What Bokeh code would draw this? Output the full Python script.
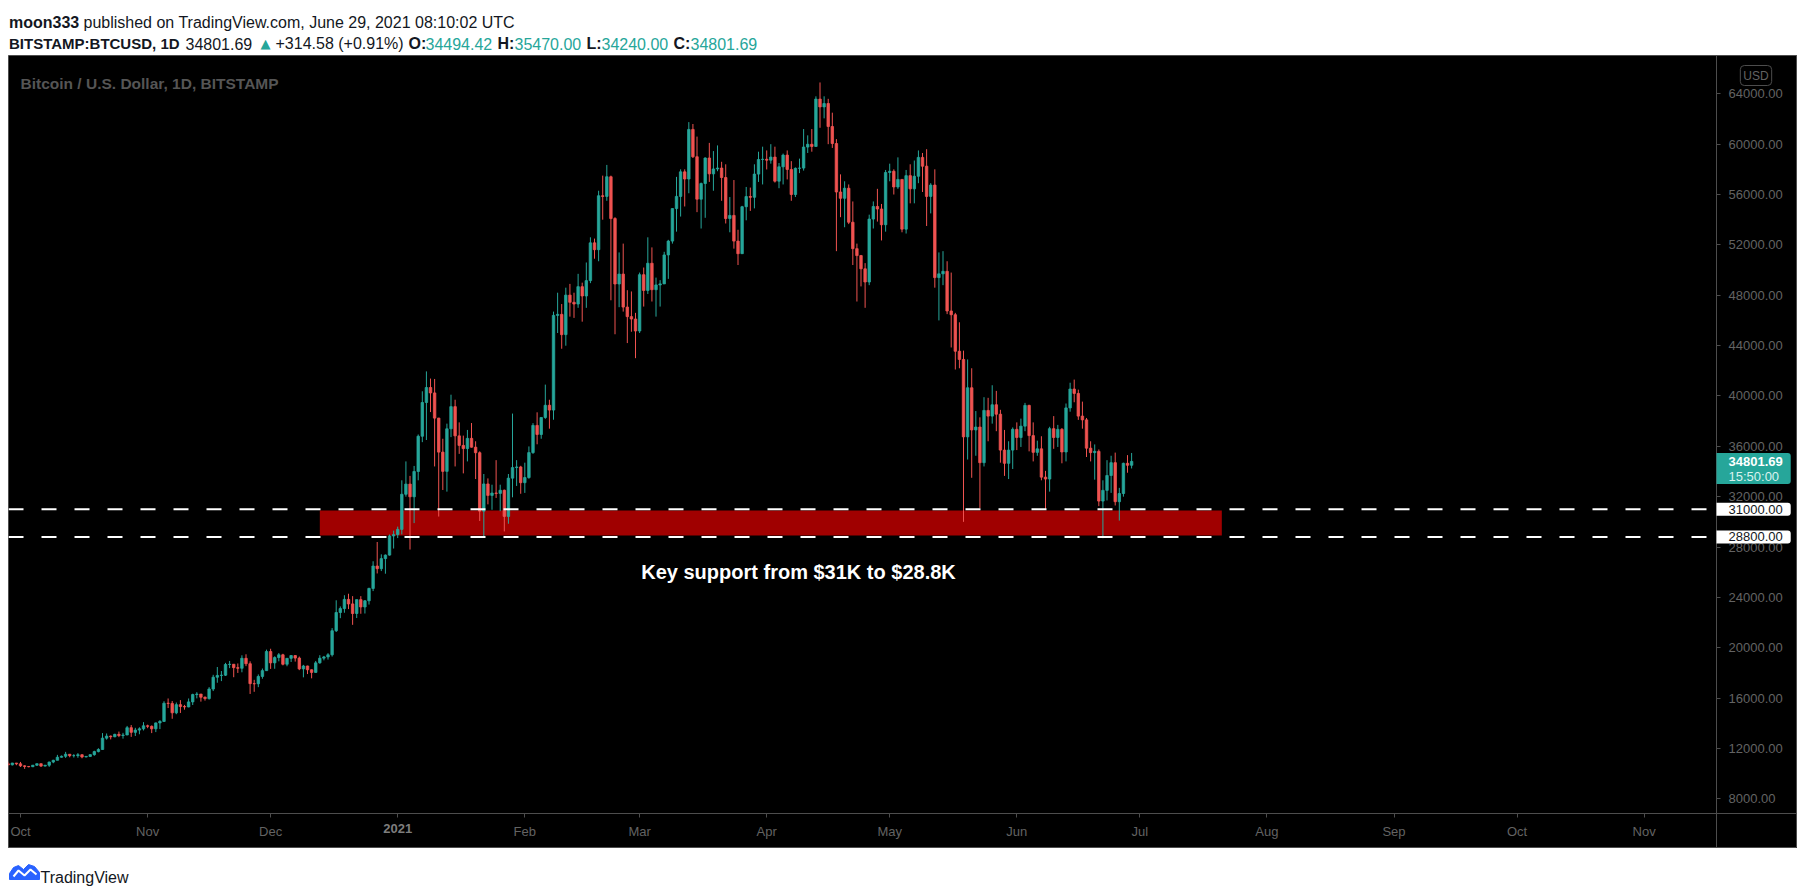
import datetime as dt
from bokeh.plotting import figure
from bokeh.models import (Range1d, LinearAxis, FixedTicker, PrintfTickFormatter,
                          Label, ColumnDataSource)
from bokeh.layouts import column
from bokeh.embed import file_html
from bokeh.resources import INLINE
from bokeh.core.properties import value

# ---------------- data (BITSTAMP:BTCUSD, 1D) ----------------
FIRST_DAY = dt.date(2020, 9, 28)
ORIGIN = dt.date(2020, 10, 1)

opens = [
    10780, 10700, 10840,
    10780, 10620, 10570, 10550, 10670, 10790, 10600, 10670, 10920, 11060, 11300, 11380, 11540, 11430, 11430, 11500,
    11320, 11370, 11510, 11750, 11920, 12820, 12980, 12930, 13120, 13030, 13070, 13650, 13280, 13460, 13560,
    13800, 13760, 13560, 14030, 14150, 15590, 15580, 14830, 15480, 15330, 15300, 15700, 16280, 16320, 16070,
    15960, 16720, 17660, 17800, 17820, 18670, 18690, 18420, 18370, 19160, 18730, 17150, 17140, 17720, 18180,
    19700, 18800, 19220, 19440, 18690, 19160, 19380, 19180, 18320, 18550, 18250, 18040, 18800, 19170, 19270,
    19440, 21350, 22800, 23110, 23840, 23480, 22720, 23820, 23240, 23730, 24710, 26490, 26280, 27080, 27360, 28880,
    28990, 29400, 32190, 33000, 31990, 34000, 36800, 39480, 40670, 40240, 38240, 35540, 34010, 37390, 39150,
    36830, 36070, 35820, 36630, 35930, 35490, 30850, 33010, 32100, 32290, 32260, 32510, 30430, 33470, 34310, 34360,
    33110, 33520, 35500, 37660, 36940, 38290, 39260, 38880, 46400, 46480, 44870, 48010, 47440, 47300,
    48680, 47940, 49160, 52160, 51620, 55900, 55850, 57410, 54090, 48890, 49680, 47060, 46300, 46110,
    45160, 49630, 48380, 50540, 48440, 48820, 48900, 51200, 52300, 54880, 55850, 57800, 57230, 61170, 59000,
    55630, 56870, 58900, 57640, 58030, 58100, 57350, 54090, 54340, 52300, 51300, 55030, 55840, 55780, 57620, 58780,
    58800, 58730, 58970, 57060, 58200, 59130, 57990, 56000, 58080, 58100, 59770, 59990, 59820, 63580, 62960,
    63230, 61400, 60050, 56200, 55700, 56500, 53800, 51700, 51150, 50100, 49050, 54050, 55050, 54850, 53600,
    57750, 57850, 56600, 57200, 53250, 57500, 56450, 57450, 58950, 58250, 55850, 56750, 49400, 49700, 49900,
    46750, 46450, 43550, 42900, 36750, 40650, 37300, 37530, 34700, 38850, 38400, 39300, 38550, 35700, 34650, 35700,
    37350, 36700, 37600, 39250, 36850, 35520, 35800, 33550, 33400, 37400, 36700, 37350, 35550, 39050, 40550,
    40200, 38400, 38100, 35850, 35500, 35600, 31650, 32500, 33680, 34700, 31600, 32250, 34650, 34494.42,
]
highs = [
    10950, 10860, 10850,
    10930, 10660, 10600, 10690, 10800, 10800, 10690, 10950, 11100, 11490, 11440, 11730, 11550, 11550, 11630, 11540,
    11400, 11530, 11820, 12020, 13220, 13190, 13030, 13170, 13340, 13240, 13790, 13860, 13640, 13680, 14090,
    13890, 13830, 14060, 14250, 15750, 15970, 15770, 15650, 15840, 15460, 15970, 16350, 16470, 16330, 16130,
    16870, 17850, 18470, 18150, 18800, 18950, 18700, 18750, 19400, 19480, 18920, 17450, 17880, 18350, 19850,
    19920, 19320, 19580, 19520, 19180, 19420, 19420, 19300, 18640, 18570, 18280, 18950, 19410, 19350, 19570,
    21560, 23770, 23280, 24170, 24290, 24100, 23830, 24100, 23790, 24770, 26870, 28400, 27420, 27410, 28990, 29300,
    29620, 33300, 34800, 33650, 34440, 36940, 40370, 41950, 41380, 41350, 38260, 36600, 37800, 40100, 39700,
    37900, 36850, 37300, 37850, 36400, 35600, 33800, 33450, 32950, 34900, 32950, 32560, 33800, 38600, 34900, 34450,
    34700, 35990, 37840, 38700, 38300, 40900, 39700, 46700, 48200, 47300, 48600, 48900, 48200, 49700,
    49000, 50600, 52600, 52500, 56300, 57500, 58350, 57500, 54200, 51400, 52100, 48400, 48300, 46600,
    49800, 50200, 52600, 51800, 49400, 49200, 51450, 52400, 54900, 57400, 58000, 58000, 61750, 61600, 60600,
    56950, 58950, 60100, 59450, 59900, 58600, 58400, 55800, 57150, 53200, 55100, 56600, 56550, 58400, 59400, 59800,
    59500, 60000, 59800, 58500, 59250, 59500, 58650, 58150, 58850, 61200, 60700, 61200, 63800, 64900, 63800,
    63600, 62500, 60400, 57600, 57050, 56800, 55450, 52100, 51200, 50550, 54400, 55450, 56450, 55250, 57950,
    58450, 58000, 58950, 57200, 57950, 58400, 58700, 59500, 59300, 59600, 56900, 58000, 51400, 51500, 50700,
    49800, 46600, 45850, 43600, 42900, 42200, 38800, 38300, 39900, 39850, 40850, 40400, 38900, 37300, 36400, 37500,
    37900, 38200, 39450, 39300, 37900, 36450, 36800, 34050, 37550, 38400, 37700, 37450, 39400, 41050, 41300,
    40500, 39550, 38250, 36400, 36150, 35750, 33300, 34900, 35250, 35500, 32700, 34700, 35300, 35470,
]
lows = [
    10640, 10650, 10670,
    10530, 10380, 10500, 10520, 10610, 10530, 10570, 10540, 10830, 11060, 11280, 11250, 11300, 11280, 11260, 11220,
    11300, 11330, 11420, 11690, 11900, 12700, 12720, 12890, 12900, 12780, 13060, 12920, 12990, 13130, 13430,
    13610, 13220, 13300, 13540, 14100, 15210, 14360, 14720, 14820, 15080, 15270, 15450, 15980, 15720, 15800,
    15880, 16560, 17220, 17350, 17760, 18380, 17660, 18000, 18050, 18540, 16330, 16500, 16870, 17540, 18170,
    18320, 18330, 18920, 18600, 18530, 18870, 18900, 18220, 17650, 17910, 17570, 18020, 18730, 19000, 19060,
    19300, 21250, 22350, 22780, 23070, 21820, 22360, 22700, 22720, 23430, 24500, 25900, 26090, 25880, 27320, 27880,
    28710, 29000, 32000, 27800, 29900, 33300, 36330, 36500, 38720, 34400, 30420, 32530, 32400, 36730, 34400,
    35400, 33850, 34800, 35900, 33400, 30070, 28850, 31390, 30960, 31900, 30850, 29240, 29850, 31950, 32850, 32230,
    32300, 33420, 35400, 36160, 36600, 38180, 37400, 38110, 45000, 43750, 43990, 46300, 46200, 47000,
    45900, 47000, 48960, 50900, 50700, 54000, 55500, 47600, 44900, 47050, 46700, 44200, 45100, 43000,
    45000, 47100, 48100, 47500, 46300, 47100, 48900, 49300, 52100, 53050, 54250, 55050, 56100, 58900, 54600,
    53300, 54150, 57000, 56300, 57850, 55500, 53700, 53000, 51700, 50400, 51300, 53950, 54700, 54900, 57000, 56800,
    57990, 58450, 56950, 56500, 56800, 57200, 55500, 55800, 57700, 57900, 59300, 59400, 59800, 61300, 62050,
    60000, 59700, 51500, 54200, 53400, 53650, 50400, 47500, 48700, 47000, 48800, 53300, 53850, 52350, 53050,
    57050, 56000, 56450, 53000, 52900, 55300, 55300, 56900, 56200, 53500, 54500, 48600, 46000, 48800, 46500,
    43850, 42100, 42200, 30000, 34950, 33500, 35250, 31100, 34400, 36400, 37800, 37200, 34700, 33650, 33400, 34200,
    35700, 35950, 37200, 35600, 34800, 35250, 33300, 31000, 32400, 35800, 35950, 34650, 34800, 38750, 39500,
    38100, 37400, 35150, 34800, 33350, 31250, 28700, 31700, 32300, 31300, 30100, 32000, 33900, 34240,
]
closes = [
    10700, 10840, 10780,
    10620, 10570, 10550, 10670, 10790, 10600, 10670, 10920, 11060, 11300, 11380, 11540, 11430, 11430, 11500, 11320,
    11370, 11510, 11750, 11920, 12820, 12980, 12930, 13120, 13030, 13070, 13650, 13280, 13460, 13560, 13800,
    13760, 13560, 14030, 14150, 15590, 15580, 14830, 15480, 15330, 15300, 15700, 16280, 16320, 16070, 15960,
    16720, 17660, 17800, 17820, 18670, 18690, 18420, 18370, 19160, 18730, 17150, 17140, 17720, 18180, 19700,
    18800, 19220, 19440, 18690, 19160, 19380, 19180, 18320, 18550, 18250, 18040, 18800, 19170, 19270, 19440,
    21350, 22800, 23110, 23840, 23480, 22720, 23820, 23240, 23730, 24710, 26490, 26280, 27080, 27360, 28880, 28990,
    29400, 32190, 33000, 31990, 34000, 36800, 39480, 40670, 40240, 38240, 35540, 34010, 37390, 39150, 36830,
    36070, 35820, 36630, 35930, 35490, 30850, 33010, 32100, 32290, 32260, 32510, 30430, 33470, 34310, 34360, 33110,
    33520, 35500, 37660, 36940, 38290, 39260, 38880, 46400, 46480, 44870, 48010, 47440, 47300, 48680,
    47940, 49160, 52160, 51620, 55900, 55850, 57410, 54090, 48890, 49680, 47060, 46300, 46110, 45160,
    49630, 48380, 50540, 48440, 48820, 48900, 51200, 52300, 54880, 55850, 57800, 57230, 61170, 59000, 55630,
    56870, 58900, 57640, 58030, 58100, 57350, 54090, 54340, 52300, 51300, 55030, 55840, 55780, 57620, 58780, 58800,
    58730, 58970, 57060, 58200, 59130, 57990, 56000, 58080, 58100, 59770, 59990, 59820, 63580, 62960, 63230,
    61400, 60050, 56200, 55700, 56500, 53800, 51700, 51150, 50100, 49050, 54050, 55050, 54850, 53600, 57750,
    57850, 56600, 57200, 53250, 57500, 56450, 57450, 58950, 58250, 55850, 56750, 49400, 49700, 49900, 46750,
    46450, 43550, 42900, 36750, 40650, 37300, 37530, 34700, 38850, 38400, 39300, 38550, 35700, 34650, 35700, 37350,
    36700, 37600, 39250, 36850, 35520, 35800, 33550, 33400, 37400, 36700, 37350, 35550, 39050, 40550, 40200,
    38400, 38100, 35850, 35500, 35600, 31650, 32500, 33680, 34700, 31600, 32250, 34650, 34494.42, 34801.69,
]

support_levels = [31000, 28800]
support_labels = ["31000.00", "28800.00"]
zone_top, zone_bottom = 30900, 28920
zone_start, zone_end = dt.date(2020, 12, 13), dt.date(2021, 7, 21)

last_price = 34801.69
last_price_text = "34801.69"
countdown_text = "15:50:00"

price_ticks = [8000, 12000, 16000, 20000, 24000, 28000, 32000, 36000, 40000,
               44000, 48000, 52000, 56000, 60000, 64000]
month_starts = [dt.date(2020, 10, 1), dt.date(2020, 11, 1), dt.date(2020, 12, 1), dt.date(2021, 1, 1),
                dt.date(2021, 2, 1), dt.date(2021, 3, 1), dt.date(2021, 4, 1), dt.date(2021, 5, 1),
                dt.date(2021, 6, 1), dt.date(2021, 7, 1), dt.date(2021, 8, 1), dt.date(2021, 9, 1),
                dt.date(2021, 10, 1), dt.date(2021, 11, 1)]
month_labels = ["Oct", "Nov", "Dec", "2021", "Feb", "Mar", "Apr", "May", "Jun", "Jul",
                "Aug", "Sep", "Oct", "Nov"]
year_label = "2021"

header_segments_1 = [("moon333", "bold", "#131722", 0.5, "16px"),
                     ("published on TradingView.com, June 29, 2021 08:10:02 UTC", "normal", "#131722", 75, "16px")]
header_segments_2 = [("BITSTAMP:BTCUSD, 1D", "bold", "#131722", 0.5, "15px"),
                     ("34801.69", "normal", "#131722", 177, "16px"),
                     ("+314.58 (+0.91%)", "normal", "#131722", 267, "16px"),
                     ("O:", "bold", "#131722", 400, "16px"), ("34494.42", "normal", "#26a69a", 417, "16px"),
                     ("H:", "bold", "#131722", 489, "16px"), ("35470.00", "normal", "#26a69a", 506, "16px"),
                     ("L:", "bold", "#131722", 578, "16px"), ("34240.00", "normal", "#26a69a", 593, "16px"),
                     ("C:", "bold", "#131722", 665, "16px"), ("34801.69", "normal", "#26a69a", 682, "16px")]

# ---------------- geometry ----------------
W = 1789
HDR_H, MAIN_H, FTR_H = 47, 793, 44
FRAME_W, FRAME_H = W, MAIN_H
PX_PER_DAY = 4.1
PX_PER_USD = 1 / 79.43
X0 = -2.93
X1 = X0 + FRAME_W / PX_PER_DAY
Y1 = 67042
Y0 = Y1 - FRAME_H / PX_PER_USD
UP, DOWN = "#26a69a", "#ef5350"
AXIS_GRAY = "#4d4d4d"
TEXT_GRAY = "#636363"
FONT = "Liberation Sans"


def fx(px):
    return X0 + px * (X1 - X0) / FRAME_W


def fy(py):
    return Y1 - py * (Y1 - Y0) / FRAME_H


PRICE_SCALE_X = fx(1708)   # price-scale separator (day units)
TIME_SCALE_Y = fy(758)     # time-scale separator (USD units)

# ---------------- header ----------------
hdr = figure(width=W, height=HDR_H, x_range=Range1d(0, W), y_range=Range1d(HDR_H, 0),
             output_backend="svg", toolbar_location=None, x_axis_location=None, y_axis_location=None,
             min_border=0, outline_line_color=None, background_fill_color="white",
             border_fill_color="white")
hdr.grid.visible = False
for segs, base in ((header_segments_1, 13.7), (header_segments_2, 35.3)):
    for txt, style, col, x, size in segs:
        hdr.text(x=[x], y=[base], text=[txt], text_font=value(FONT), text_font_size=size,
                 text_font_style=style, text_color=col, text_baseline="alphabetic")
hdr.text(x=[252], y=[35], text=["\u25B2"], text_font=value("DejaVu Sans"), text_font_size="13px",
         text_color=UP, text_baseline="alphabetic")

# ---------------- main chart ----------------
p = figure(width=W, height=MAIN_H, x_range=Range1d(X0, X1), y_range=Range1d(Y0, Y1),
           output_backend="svg", toolbar_location=None, x_axis_location=None, y_axis_location=None,
           min_border=0, background_fill_color="black", border_fill_color="black",
           outline_line_color=AXIS_GRAY, outline_line_width=1)
p.grid.visible = False

xs = [(FIRST_DAY + dt.timedelta(days=i) - ORIGIN).days for i in range(len(closes))]
colors = [UP if c >= o else DOWN for o, c in zip(opens, closes)]
src = ColumnDataSource(dict(x=xs, o=opens, h=highs, l=lows, c=closes,
                            top=[max(o, c) for o, c in zip(opens, closes)],
                            bot=[min(o, c) for o, c in zip(opens, closes)],
                            color=colors))

# support zone
p.quad(left=[(zone_start - ORIGIN).days], right=[(zone_end - ORIGIN).days],
       bottom=[zone_bottom], top=[zone_top], fill_color="#a00000", line_color=None)

p.segment(x0="x", y0="l", x1="x", y1="h", line_color="color", line_width=1, source=src)
p.vbar(x="x", width=0.6, top="top", bottom="bot", fill_color="color", line_color="color",
       line_width=0.8, source=src)

# dashed horizontal levels
p.segment(x0=[X0] * len(support_levels), x1=[PRICE_SCALE_X] * len(support_levels),
          y0=support_levels, y1=support_levels, line_color="white", line_width=2, line_dash="15 18")

# axes: price scale and time scale drawn at their separators
yax = LinearAxis(ticker=FixedTicker(ticks=price_ticks), formatter=PrintfTickFormatter(format="%.2f"),
                 fixed_location=PRICE_SCALE_X)
xax = LinearAxis(ticker=FixedTicker(ticks=[(m - ORIGIN).days for m in month_starts]),
                 major_label_overrides={(m - ORIGIN).days: ("" if lab == year_label else lab)
                                        for m, lab in zip(month_starts, month_labels)},
                 fixed_location=TIME_SCALE_Y)
for ax, stand in ((yax, 8), (xax, 6)):
    ax.axis_line_color = AXIS_GRAY
    ax.major_tick_line_color = AXIS_GRAY
    ax.minor_tick_line_color = None
    ax.major_tick_in = 0
    ax.major_tick_out = 4
    ax.major_label_text_color = TEXT_GRAY
    ax.major_label_text_font = FONT
    ax.major_label_text_font_size = "13px"
    ax.major_label_standoff = stand
p.add_layout(yax, "right")
p.add_layout(xax, "below")

# annotations
yr_x = (month_starts[month_labels.index(year_label)] - ORIGIN).days
p.add_layout(Label(x=yr_x, y=TIME_SCALE_Y, y_offset=-10, text=year_label, text_font=FONT,
                   text_font_size="13px", text_font_style="bold", text_color="#7d7d7d",
                   text_align="center", text_baseline="top"))
p.add_layout(Label(x=fx(12), y=fy(28), text="Bitcoin / U.S. Dollar, 1D, BITSTAMP",
                   text_font=FONT, text_font_size="15.5px", text_font_style="bold",
                   text_color="#555555", text_baseline="alphabetic"))
p.add_layout(Label(x=fx(790), y=fy(516), text="Key support from $31K to $28.8K",
                   text_font=FONT, text_font_size="20px", text_font_style="bold",
                   text_color="white", text_align="center", text_baseline="alphabetic"))
p.add_layout(Label(x=fx(1747.5), y=fy(20), text="USD", text_font=FONT, text_font_size="12px",
                   text_color=TEXT_GRAY, text_align="center", text_baseline="middle",
                   background_fill_color="black", border_line_color=AXIS_GRAY,
                   padding=3, border_radius=4))

box_radius = dict(top_left=0, top_right=3, bottom_right=3, bottom_left=0)
for lvl, lab in zip(support_levels, support_labels):
    p.add_layout(Label(x=PRICE_SCALE_X, y=lvl, text=lab, text_font=FONT, text_font_size="13px",
                       text_color="#131722", text_baseline="middle",
                       background_fill_color="white", padding=dict(left=12, right=8, top=2, bottom=2),
                       border_radius=box_radius))
p.add_layout(Label(x=PRICE_SCALE_X, y=last_price, y_offset=-7, text=last_price_text, text_font=FONT,
                   text_font_size="13px", text_font_style="bold", text_color="white",
                   text_baseline="middle", background_fill_color=UP,
                   padding=dict(left=12, right=8, top=4, bottom=18), border_radius=box_radius))
p.add_layout(Label(x=PRICE_SCALE_X, y=last_price, y_offset=-15, text=countdown_text, text_font=FONT,
                   text_font_size="13px", text_color="#d9f2ef", text_baseline="middle",
                   padding=dict(left=12, right=8, top=0, bottom=0)))

# ---------------- footer ----------------
ftr = figure(width=W, height=FTR_H, x_range=Range1d(0, W), y_range=Range1d(FTR_H, 0),
             output_backend="svg", toolbar_location=None, x_axis_location=None, y_axis_location=None,
             min_border=0, outline_line_color=None, background_fill_color="white",
             border_fill_color="white")
ftr.grid.visible = False
ftr.patch([1, 1, 5, 10, 15, 20, 26, 31, 31], [31, 25, 19, 17, 21, 16, 18, 24, 31], color="#2962ff")
ftr.line([5, 10, 16, 22, 28], [28, 22, 27, 21, 26], line_color="white", line_width=2)
ftr.text(x=[32], y=[29], text=["TradingView"], text_font=value(FONT), text_font_size="16px",
         text_color="#131722", text_baseline="alphabetic")

layout = column(hdr, p, ftr, spacing=0, margin=(8, 8, 0, 8))
open("out.html", "w").write(file_html(layout, INLINE))
